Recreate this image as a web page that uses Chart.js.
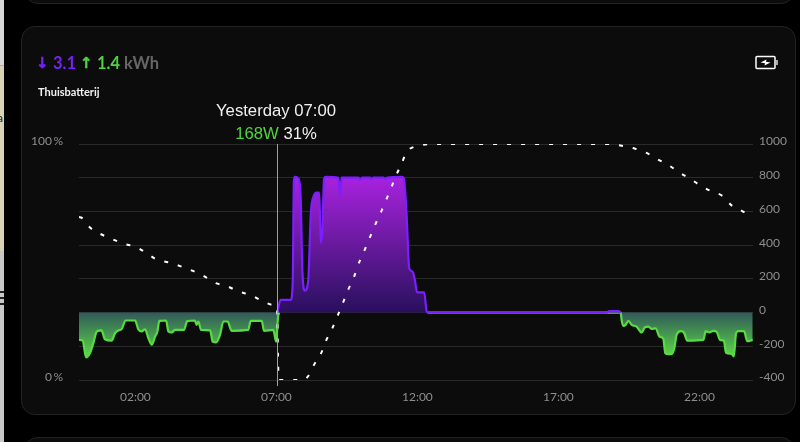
<!DOCTYPE html>
<html><head><meta charset="utf-8">
<style>
html,body{margin:0;padding:0;background:#000;width:800px;height:442px;overflow:hidden;font-family:Lato,sans-serif}
.abs{position:absolute;white-space:nowrap}
.card{position:absolute;background:#0c0c0c;border:1px solid #222;box-sizing:border-box;border-radius:14px}
canvas{position:absolute;left:0;top:0}
</style>
<script src="https://cdn.jsdelivr.net/npm/chart.js@4/dist/chart.umd.min.js"></script>
</head><body>
<div class="abs" style="left:0;top:0;width:4px;height:65px;background:#d8d8d8"></div>
<div class="abs" style="left:0;top:65px;width:4px;height:185px;background:#d9d2b8;border-top:1px solid #d8ab3c;border-bottom:1px solid #d8ab3c;overflow:hidden"><span style="position:absolute;left:-3px;top:44px;font-size:12px;color:#222">a</span></div>
<div class="abs" style="left:0;top:251px;width:4px;height:191px;background:#c8c8c8"></div>
<div class="abs" style="left:0;top:291px;width:4px;height:2px;background:#222"></div>
<div class="abs" style="left:0;top:297px;width:4px;height:2px;background:#222"></div>
<div class="abs" style="left:0;top:303px;width:4px;height:2px;background:#222"></div>
<div class="card" style="left:24px;top:-40px;width:771px;height:44px"></div>
<div class="card" style="left:21px;top:26px;width:775px;height:389px"></div>
<div class="card" style="left:24px;top:437px;width:771px;height:40px"></div>
<canvas id="c" width="800" height="442"></canvas>
<div class="abs" style="left:36px;top:53px;font-size:15px;font-family:'Noto Sans','DejaVu Sans';font-weight:700;line-height:19px;color:#7a1fff;-webkit-text-stroke:.5px #7a1fff">↓</div>
<div class="abs" style="left:53px;top:54px;font-size:16.5px;font-weight:700;line-height:19px;color:#7a1fff">3.1</div>
<div class="abs" style="left:80px;top:53px;font-size:15px;font-family:'Noto Sans','DejaVu Sans';font-weight:700;line-height:19px;color:#4fd43f;-webkit-text-stroke:.5px #4fd43f">↑</div>
<div class="abs" style="left:97px;top:54px;font-size:16.5px;font-weight:700;line-height:19px;color:#4fd43f">1.4</div>
<div class="abs" style="left:124px;top:54px;font-size:16.5px;font-weight:700;line-height:19px;color:#666">kWh</div>
<div class="abs" style="left:38px;top:85px;font-size:11px;font-weight:700;color:#f2f2f2;line-height:14px">Thuisbatterij</div>
<div class="abs" style="left:176px;width:200px;text-align:center;top:101px;font-family:'Liberation Sans',sans-serif;font-size:16.7px;line-height:19px;color:#f0f0f0">Yesterday 07:00</div>
<div class="abs" style="left:176px;width:200px;text-align:center;top:124px;font-family:'Liberation Sans',sans-serif;font-size:16.7px;line-height:19px;color:#f0f0f0"><span style="color:#4fd43f">168W</span> 31%</div>
<svg class="abs" style="left:754px;top:55px" width="26" height="16" viewBox="0 0 26 16">
<rect x="2" y="1.5" width="19" height="12" rx="1" fill="none" stroke="#fff" stroke-width="1.5"/>
<rect x="22" y="5" width="2" height="5" fill="#aaa"/>
<path d="M6.5 7.5 L12.5 4.5 L12 6.7 L16.5 7.5 L10.5 10.5 L11 8.3 Z" fill="#fff"/>
</svg>
<script>
const tickHours=[2,7,12,17,22];
const tickLabels=['02:00','07:00','12:00','17:00','22:00'];
const crossHour=7.02;

const socHours=[0,.10,.39,.74,1.16,1.57,2.02,2.38,2.76,3.20,3.64,4.06,4.43,4.82,5.24,5.66,6.09,6.45,6.89,7.02,7.08,7.95,8.13,8.34,8.60,8.78,8.99,9.18,9.37,9.55,9.75,9.90,10.10,10.29,10.47,10.67,10.87,11.05,11.23,11.44,11.62,12.03,12.5,18.83,19.24,19.72,20.13,20.49,20.90,21.28,21.67,22.02,22.41,22.83,23.14,23.53,23.89];
const socValues=[69.1,68.7,64.6,62,59.8,57.8,56.4,53.9,51,49.8,48,46.1,44,41.2,39.8,37.5,36,33.8,31.8,31,0,0,1.7,6.6,11.7,17.2,22.1,27.5,33,38.4,43.6,48.9,54.3,59.7,64.9,70.1,75.7,80.8,86.3,91.7,96.6,99.2,100,100,99.3,98,96.2,93.7,91.1,88,85.3,82.5,80,77.9,74,71.5,69];

const inHours=[7.03,7.15,7.51,7.58,7.62,7.66,7.78,7.86,7.92,8.01,8.13,8.22,8.31,8.43,8.52,8.57,8.63,8.69,8.75,9.20,9.26,9.31,9.90,9.98,10.05,10.32,10.38,10.44,10.79,10.85,10.91,11.44,11.52,11.62,11.71,11.83,11.91,11.99,12.24,12.33,12.39,18.71,18.8,19.13,19.21];
const inValues=[0,75,75,193,785,805,795,686,252,130,193,588,686,712,712,414,489,795,805,800,696,800,800,790,800,800,792,800,800,792,800,805,795,568,262,243,193,120,120,6,0,0,8,8,0];

const outHours=[0,.13,.25,.39,.51,.63,.80,.92,1.16,1.28,1.39,1.51,1.65,1.99,2.10,2.22,2.34,2.46,2.58,2.70,2.78,2.85,3.09,3.17,3.29,3.40,3.72,3.84,4.11,4.17,4.23,4.33,4.65,4.74,4.86,5.00,5.12,5.27,5.41,6.00,6.09,6.48,6.56,6.89,6.99,7.06,7.10,7.11,12.36,19.21,19.24,19.30,19.38,19.48,19.60,19.77,19.95,20.07,20.19,20.31,20.45,20.58,20.72,20.79,20.90,21.02,21.11,21.19,21.34,21.45,21.57,22.14,22.22,22.35,22.49,22.61,22.73,22.87,22.94,23.14,23.22,23.30,23.38,23.58,23.70,23.89];
const outValues=[-162,-166,-266,-240,-181,-112,-106,-158,-166,-122,-106,-99,-47,-47,-99,-112,-99,-152,-191,-142,-112,-49,-47,-112,-118,-103,-103,-51,-47,-73,-53,-103,-106,-172,-177,-132,-53,-53,-108,-103,-49,-49,-108,-103,-172,-24,0,null,0,0,-43,-79,-73,-49,-73,-83,-118,-87,-83,-97,-93,-142,-156,-241,-247,-245,-211,-132,-110,-118,-166,-162,-110,-118,-108,-114,-162,-168,-237,-245,-260,-122,-110,-110,-170,-162];

const pts=(xs,ys)=>xs.map((x,i)=>({x,y:ys[i]}));
function vGrad(ctx,axis,topVal,botVal,topCol,botCol){
  const ch=ctx.chart;
  if(!ch.chartArea) return topCol;
  const s=ch.scales[axis];
  const g=ch.ctx.createLinearGradient(0,s.getPixelForValue(topVal),0,s.getPixelForValue(botVal));
  g.addColorStop(0,topCol);g.addColorStop(1,botCol);
  return g;
}
const crosshair={id:'crosshair',afterDatasetsDraw(ch){
  const px=ch.scales.x.getPixelForValue(crossHour),c=ch.ctx;
  c.save();c.strokeStyle='#a0a0a0';c.lineWidth=1;c.beginPath();
  c.moveTo(Math.round(px)+.5,ch.chartArea.top);c.lineTo(Math.round(px)+.5,ch.chartArea.bottom+6);c.stroke();c.restore();
}};
const raiseLabels={id:'raiseLabels',beforeDraw(ch){
  ['y','yR'].forEach(id=>ch.scales[id].getLabelItems().forEach(it=>{it.textOffset-=2.5;}));
}};
const tickFont={family:'Lato',size:12};
new Chart(document.getElementById('c'),{
  type:'line',
  plugins:[crosshair,raiseLabels],
  data:{datasets:[
    {data:pts(socHours,socValues),yAxisID:'y',borderColor:'#fff',borderWidth:2,borderDash:[4,10],pointRadius:0,fill:false,cubicInterpolationMode:'monotone'},
    {data:pts(inHours,inValues),yAxisID:'yR',borderColor:'#7a1fff',borderWidth:2.2,pointRadius:0,fill:'origin',cubicInterpolationMode:'monotone',
      backgroundColor:c=>vGrad(c,'yR',800,0,'#a722de','#28105c')},
    {data:pts(outHours,outValues),yAxisID:'yR',borderColor:'#57dc41',borderWidth:2.2,pointRadius:0,fill:'origin',spanGaps:false,cubicInterpolationMode:'monotone',
      backgroundColor:c=>vGrad(c,'yR',0,-270,'#305a58','#5fdb48')}
  ]},
  options:{
    responsive:false,animation:false,
    layout:{padding:{left:20,right:10,top:144,bottom:30}},
    plugins:{legend:{display:false},tooltip:{enabled:false}},
    scales:{
      x:{type:'linear',min:0,max:23.9,
        grid:{display:false},border:{display:false},
        afterBuildTicks:s=>{s.ticks=tickHours.map(v=>({value:v}));},
        afterFit:s=>{s.height=32;},
        ticks:{color:'#8e8e8e',font:tickFont,maxRotation:0,autoSkip:false,padding:2,
          callback:v=>tickLabels[tickHours.indexOf(v)]}},
      y:{position:'left',min:0,max:100,
        grid:{display:false},border:{display:false},
        afterFit:s=>{s.width=59;},
        ticks:{stepSize:100,color:'#8e8e8e',font:tickFont,padding:8,callback:v=>v+'\u2009%'}},
      yR:{position:'right',min:-400,max:1000,
        grid:{color:'#2a2a2a',lineWidth:1,drawTicks:false},border:{display:false},
        afterFit:s=>{s.width=37;},
        ticks:{stepSize:200,color:'#8e8e8e',font:tickFont,padding:6,callback:v=>String(v)}}
    }
  }
});
</script>
</body></html>
